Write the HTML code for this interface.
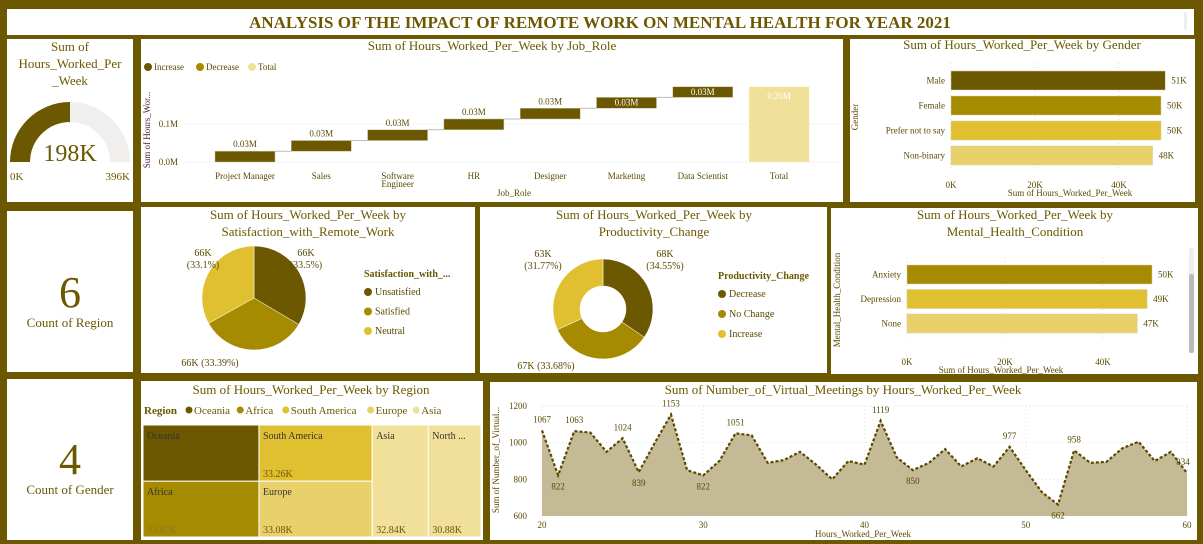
<!DOCTYPE html>
<html><head><meta charset="utf-8">
<style>
html,body{margin:0;padding:0;background:#6b5800;}
svg{display:block;font-family:"Liberation Serif",serif;}
text{fill:#6b5800;}
.t{font-size:13px;fill:#6b5800;}
.s{font-size:9px;fill:#5a4a00;}
.p{font-size:10px;fill:#5a4a00;}
</style></head>
<body>
<svg id="dash" width="1203" height="544" viewBox="0 0 1203 544" xmlns="http://www.w3.org/2000/svg">
<rect x="0" y="0" width="1203" height="544" fill="#6b5800"/>
<rect x="7" y="9" width="1187" height="26" fill="#fff"/>
<text x="600" y="28" text-anchor="middle" font-size="17" font-weight="bold">ANALYSIS OF THE IMPACT OF REMOTE WORK ON MENTAL HEALTH FOR YEAR 2021</text>
<rect x="1184" y="12" width="3" height="18" fill="#eee"/>

<rect x="7" y="39" width="126" height="163" fill="#fff"/>
<rect x="141" y="39" width="702" height="163" fill="#fff"/>
<rect x="850" y="39" width="345" height="163" fill="#fff"/>
<rect x="7" y="211" width="126" height="161" fill="#fff"/>
<rect x="141" y="207" width="334" height="166" fill="#fff"/>
<rect x="480" y="207" width="347" height="166" fill="#fff"/>
<rect x="831" y="208" width="367" height="166" fill="#fff"/>
<rect x="7" y="379" width="126" height="161" fill="#fff"/>
<rect x="141" y="381" width="342" height="159" fill="#fff"/>
<rect x="490" y="382" width="707" height="158" fill="#fff"/>

<text x="70" y="51" text-anchor="middle" class="t">Sum of</text>
<text x="70" y="68" text-anchor="middle" class="t">Hours_Worked_Per</text>
<text x="70" y="85" text-anchor="middle" class="t">_Week</text>
<g id="gauge"></g>
<text x="70" y="161" text-anchor="middle" font-size="24">198K</text>
<text x="10" y="180" font-size="11">0K</text>
<text x="130" y="180" text-anchor="end" font-size="11">396K</text>

<text x="70" y="307" text-anchor="middle" font-size="44">6</text>
<text x="70" y="327" text-anchor="middle" font-size="13">Count of Region</text>
<text x="70" y="474" text-anchor="middle" font-size="44">4</text>
<text x="70" y="494" text-anchor="middle" font-size="13">Count of Gender</text>

<text x="492" y="50" text-anchor="middle" class="t">Sum of Hours_Worked_Per_Week by Job_Role</text>
<g>
<circle cx="148" cy="67" r="4" fill="#6b5800"/><text x="154" y="70" class="s">Increase</text>
<circle cx="200" cy="67" r="4" fill="#a68a00"/><text x="206" y="70" class="s">Decrease</text>
<circle cx="252" cy="67" r="4" fill="#f0e09a"/><text x="258" y="70" class="s">Total</text>
</g>
<text transform="translate(150,130) rotate(-90)" text-anchor="middle" class="s" style="fill:#4a2040">Sum of Hours_Wor...</text>
<text x="514" y="196" text-anchor="middle" class="s">Job_Role</text>
<g id="wf"></g>

<text x="1022" y="49" text-anchor="middle" class="t">Sum of Hours_Worked_Per_Week by Gender</text>
<text transform="translate(858,117) rotate(-90)" text-anchor="middle" class="s">Gender</text>
<text x="1070" y="196" text-anchor="middle" class="s">Sum of Hours_Worked_Per_Week</text>
<g id="gb"></g>

<text x="308" y="219" text-anchor="middle" class="t">Sum of Hours_Worked_Per_Week by</text>
<text x="308" y="236" text-anchor="middle" class="t">Satisfaction_with_Remote_Work</text>
<g id="pie1"></g>
<text x="364" y="277" font-size="10" font-weight="bold">Satisfaction_with_...</text>
<g id="leg1"></g>

<text x="654" y="219" text-anchor="middle" class="t">Sum of Hours_Worked_Per_Week by</text>
<text x="654" y="236" text-anchor="middle" class="t">Productivity_Change</text>
<g id="pie2"></g>
<text x="718" y="279" font-size="10" font-weight="bold">Productivity_Change</text>
<g id="leg2"></g>

<text x="1015" y="219" text-anchor="middle" class="t">Sum of Hours_Worked_Per_Week by</text>
<text x="1015" y="236" text-anchor="middle" class="t">Mental_Health_Condition</text>
<text transform="translate(840,300) rotate(-90)" text-anchor="middle" class="s">Mental_Health_Condition</text>
<text x="1001" y="373" text-anchor="middle" class="s">Sum of Hours_Worked_Per_Week</text>
<rect x="1189" y="248" width="5" height="105" rx="2" fill="#eee"/>
<rect x="1189" y="274" width="5" height="79" rx="2" fill="#bbb"/>
<g id="mb"></g>

<text x="311" y="394" text-anchor="middle" class="t">Sum of Hours_Worked_Per_Week by Region</text>
<g id="tmleg"><text x="144" y="414" font-size="11" font-weight="bold">Region</text></g>
<g id="tm"></g>

<text x="843" y="394" text-anchor="middle" class="t">Sum of Number_of_Virtual_Meetings by Hours_Worked_Per_Week</text>
<text transform="translate(499,460) rotate(-90)" text-anchor="middle" class="s">Sum of Number_of_Virtual...</text>
<text x="863" y="537" text-anchor="middle" class="s">Hours_Worked_Per_Week</text>
<g id="ar"></g>
</svg>
<script>
const C_DARK='#6b5800',C_MID='#a68a00',C_YEL='#e0c030',C_LT='#e8d16a',C_LT2='#f0e09a';
const jobRoles=['Project Manager','Sales','Software Engineer','HR','Designer','Marketing','Data Scientist'];
const jobHours=[28.4,28.1,28.3,28.4,28.2,28.6,28.0];
const wfTicks=[0,0.1];
const genders=['Male','Female','Prefer not to say','Non-binary'];
const genderHours=[51,50,50,48];
const genderLabels=['51K','50K','50K','48K'];
const genderTicks=[0,20,40];
const satCats=['Unsatisfied','Satisfied','Neutral'];
const satPct=[33.5,33.39,33.1];
const satLabels=['66K\n(33.5%)','66K (33.39%)','66K\n(33.1%)'];
const prodCats=['Decrease','No Change','Increase'];
const prodPct=[34.55,33.68,31.77];
const prodLabels=['68K\n(34.55%)','67K (33.68%)','63K\n(31.77%)'];
const mhCats=['Anxiety','Depression','None'];
const mhHours=[50,49,47];
const mhLabels=['50K','49K','47K'];
const mhTicks=[0,20,40];
const regions=['Oceania','Africa','South America','Europe','Asia','North America'];
const regionHours=[34.1,33.82,33.26,33.08,32.84,30.88];
const regionLabels=['','33.82K','33.26K','33.08K','32.84K','30.88K'];
const hoursX=[20,21,22,23,24,25,26,27,28,29,30,31,32,33,34,35,36,37,38,39,40,41,42,43,44,45,46,47,48,49,50,51,52,53,54,55,56,57,58,59,60];
const meetings=[1067,822,1063,1055,950,1024,839,1000,1153,850,822,900,1051,1040,890,905,950,880,800,900,880,1119,920,850,890,965,870,915,870,977,850,730,662,958,890,895,970,1005,900,950,834];
const labeledIdx=[0,1,2,5,6,8,10,12,21,23,29,32,33,40];
const areaYTicks=[600,800,1000,1200];
const areaXTicks=[20,30,40,50,60];

const NS='http://www.w3.org/2000/svg';
function mk(tag,attrs,parent){const e=document.createElementNS(NS,tag);for(const k in attrs)e.setAttribute(k,attrs[k]);parent.appendChild(e);return e;}
function txt(s,attrs,parent){const e=mk('text',attrs,parent);e.textContent=s;return e;}

(function(){
 const g=document.getElementById('gauge');const cx=70,cy=162,R=60,r=40;const val=198,max=396;
 function arc(a0,a1){const p=(a,rr)=>[cx+rr*Math.cos(a),cy-rr*Math.sin(a)];const [x0,y0]=p(a0,R),[x1,y1]=p(a1,R),[x2,y2]=p(a1,r),[x3,y3]=p(a0,r);return `M${x0},${y0}A${R},${R} 0 0 1 ${x1},${y1}L${x2},${y2}A${r},${r} 0 0 0 ${x3},${y3}Z`;}
 const bg=mk('path',{d:arc(Math.PI,0),fill:'#f0efed'},g);
 
 
 const fg=mk('path',{d:arc(Math.PI,Math.PI*(1-val/max)),fill:C_DARK},g);
 
 
})();

(function(){
 const g=document.getElementById('wf');const y0=162,pxPerM=380;const ys=v=>y0-v*pxPerM;
 const x0=207,step=76.3,bw=60;
 wfTicks.forEach(t=>{const l=mk('line',{x1:185,x2:840,y1:ys(t),y2:ys(t),stroke:'#ddd','stroke-dasharray':'1,3'},g);
 
 
 const tl=txt(t.toFixed(1)+'M',{x:178,y:ys(t)+3,'text-anchor':'end',class:'s'},g);
 
 });
 let cum=0;
 jobRoles.forEach((j,i)=>{const v=jobHours[i]/1000;const x=x0+i*step;
  const b=mk('rect',{x:x+8,y:ys(cum+v),width:bw,height:v*pxPerM,fill:C_DARK,stroke:'#c8c0a0','stroke-width':0.5},g);
  
  
  if(i<jobRoles.length-1){const c=mk('line',{x1:x+8+bw,x2:x+step+8,y1:ys(cum+v),y2:ys(cum+v),stroke:'#bbb'},g);
  
  }
  const lab=txt(v.toFixed(2)+'M',{x:x+8+bw/2,y:ys(cum+v)-4,'text-anchor':'middle',class:'s'},g);
  
  
  if(i>=5){lab.setAttribute('y',ys(cum+v)+8);lab.style.fill='#fff';}
  const parts=j=='Software Engineer'?['Software','Engineer']:[j];
  parts.forEach((p,k)=>{const xl=txt(p,{x:x+8+bw/2,y:179+k*8,'text-anchor':'middle',class:'s'},g);
  
  });
  cum+=v;});
 const xt=x0+jobRoles.length*step;
 const tb=mk('rect',{x:xt+8,y:ys(cum),width:bw,height:cum*pxPerM,fill:C_LT2},g);
 
 
 const tlab=txt(cum.toFixed(2)+'M',{x:xt+8+bw/2,y:ys(cum)+12,'text-anchor':'middle',class:'s'},g);
 
 
 tlab.style.fill='#fff';
 const tx=txt('Total',{x:xt+8+bw/2,y:179,'text-anchor':'middle',class:'s'},g);
 
 
})();

function hbars(id,cats,vals,labels,ticks,x0,pxK,yTop,rowH,bh,colors,tickY,nameP){
 const g=document.getElementById(id);
 ticks.forEach(t=>{const l=mk('line',{x1:x0+t*pxK,x2:x0+t*pxK,y1:yTop-8,y2:yTop+rowH*cats.length,stroke:'#ddd','stroke-dasharray':'1,3'},g);
 
 
 const tl=txt(t+'K',{x:x0+t*pxK,y:tickY,'text-anchor':'middle',class:'s'},g);
 
 });
 cats.forEach((c,i)=>{const y=yTop+i*rowH;
  const b=mk('rect',{x:x0,y:y,width:vals[i]*pxK,height:bh,fill:colors[i],stroke:'#d8d0a8','stroke-width':0.5},g);
  
  
  const cl=txt(c,{x:x0-6,y:y+bh/2+3,'text-anchor':'end',class:'s'},g);
  
  
  const vl=txt(labels[i],{x:x0+vals[i]*pxK+6,y:y+bh/2+3,class:'s'},g);
  
  });
}
hbars('gb',genders,genderHours,genderLabels,genderTicks,951,4.2,71,25,19,[C_DARK,C_MID,C_YEL,C_LT],188,'gender');
hbars('mb',mhCats,mhHours,mhLabels,mhTicks,907,4.9,265,24.5,19,[C_MID,C_YEL,C_LT],365,'mental');

function pie(id,pcts,labels,cx,cy,R,r,colors,labelPos,nameP){
 const g=document.getElementById(id);const tot=pcts.reduce((a,b)=>a+b,0);let a=-Math.PI/2;
 pcts.forEach((p,i)=>{const a1=a+p/tot*2*Math.PI;const P=(ang,rr)=>[cx+rr*Math.cos(ang),cy+rr*Math.sin(ang)];
  const [x0,y0]=P(a,R),[x1,y1]=P(a1,R);const lg=(a1-a)>Math.PI?1:0;
  let d=`M${x0},${y0}A${R},${R} 0 ${lg} 1 ${x1},${y1}`;
  if(r>0){const [x2,y2]=P(a1,r),[x3,y3]=P(a,r);d+=`L${x2},${y2}A${r},${r} 0 ${lg} 0 ${x3},${y3}Z`;}else d+=`L${cx},${cy}Z`;
  const s=mk('path',{d:d,fill:colors[i],stroke:'#fff','stroke-width':0.5},g);
  
  
  const lp=labelPos[i];labels[i].split('\n').forEach((ln,k)=>{const t=txt(ln,{x:lp[0],y:lp[1]+k*12,'text-anchor':'middle',class:'p'},g);
  
  });
  a=a1;});
}
pie('pie1',satPct,satLabels,254,298,52,0,[C_DARK,C_MID,C_YEL],[[306,256],[210,366],[203,256]],'satisfaction');
pie('pie2',prodPct,prodLabels,603,309,50,23,[C_DARK,C_MID,C_YEL],[[665,257],[546,369],[543,257]],'productivity');
function legend(id,cats,x,y0,dy,nameP){const g=document.getElementById(id);
 cats.forEach((c,i)=>{const d=mk('circle',{cx:x+4,cy:y0+i*dy-3,r:4,fill:[C_DARK,C_MID,C_YEL][i]},g);
 
 
 const t=txt(c,{x:x+11,y:y0+i*dy,class:'s'},g);
 
 
 t.style.fontSize='10px';});}
legend('leg1',satCats,364,295,19.5,'satisfaction');
legend('leg2',prodCats,718,297,20,'productivity');

(function(){
 const g=document.getElementById('tm');const X0=143,Y0=425,W=338,H=112;const tot=regionHours.reduce((a,b)=>a+b,0);
 const cols=[[0,1],[2,3],[4],[5]];const colors=[C_DARK,C_MID,C_YEL,C_LT,C_LT2,C_LT2];let x=X0;
 cols.forEach(col=>{const cs=col.reduce((s,i)=>s+regionHours[i],0);const w=cs/tot*W;let y=Y0;
  col.forEach(i=>{const h=regionHours[i]/cs*H;
   const r=mk('rect',{x:x,y:y,width:w,height:h,fill:colors[i],stroke:'#fff','stroke-width':1},g);
   
   
   let nm=regions[i];if(nm.length>8&&w<70)nm='North ...';
   const t=txt(nm,{x:x+4,y:y+14,'font-size':10},g);
   
   
   t.style.fill='#333';
   if(regionLabels[i]){const v=txt(regionLabels[i],{x:x+4,y:y+h-4,'font-size':10},g);
   
   
   v.style.fill=i<2?'#8a7a20':'#6b5800';}
   y+=h;});
  x+=w;});
 const lg=document.getElementById('tmleg');let lx=186;
 regions.slice(0,5).forEach((rg,i)=>{const c=mk('circle',{cx:lx+3,cy:410,r:3.5,fill:colors[i]},lg);
 
 
 const t=txt(rg,{x:lx+8,y:414,'font-size':11},lg);
 
 
 lx+=12+rg.length*5.6;});
})();

(function(){
 const g=document.getElementById('ar');const xs=v=>542+(v-20)*(1187-542)/40;const ys=v=>516-(v-600)*(110/600);
 areaYTicks.forEach(t=>{const l=mk('line',{x1:542,x2:1190,y1:ys(t),y2:ys(t),stroke:'#ddd','stroke-dasharray':'1,3'},g);
 
 
 const tl=txt(t,{x:527,y:ys(t)+3,'text-anchor':'end',class:'s'},g);
 
 });
 areaXTicks.forEach(t=>{const l=mk('line',{x1:xs(t),x2:xs(t),y1:ys(1200),y2:ys(600),stroke:'#ddd','stroke-dasharray':'1,3'},g);
 
 
 const tl=txt(t,{x:xs(t),y:528,'text-anchor':'middle',class:'s'},g);
 
 });
 let pts=hoursX.map((h,i)=>xs(h)+','+ys(meetings[i])).join(' ');
 const a=mk('polygon',{points:xs(hoursX[0])+','+ys(600)+' '+pts+' '+xs(hoursX[hoursX.length-1])+','+ys(600),fill:'#c4ba96'},g);
 
 
 const ln=mk('polyline',{points:pts,fill:'none',stroke:'#5a4a00','stroke-width':2.2,'stroke-dasharray':'3,2'},g);
 
 
 labeledIdx.forEach(i=>{const v=meetings[i];const prev=meetings[i-1]||0,next=meetings[i+1]||0;const low=v<prev&&v<next&&i>0;
  const t=txt(v,{x:xs(hoursX[i])+(i==40?-4:0),y:ys(v)+(low?14:-8),'text-anchor':'middle',class:'s'},g);
  
  });
})();
</script>
</body></html>
